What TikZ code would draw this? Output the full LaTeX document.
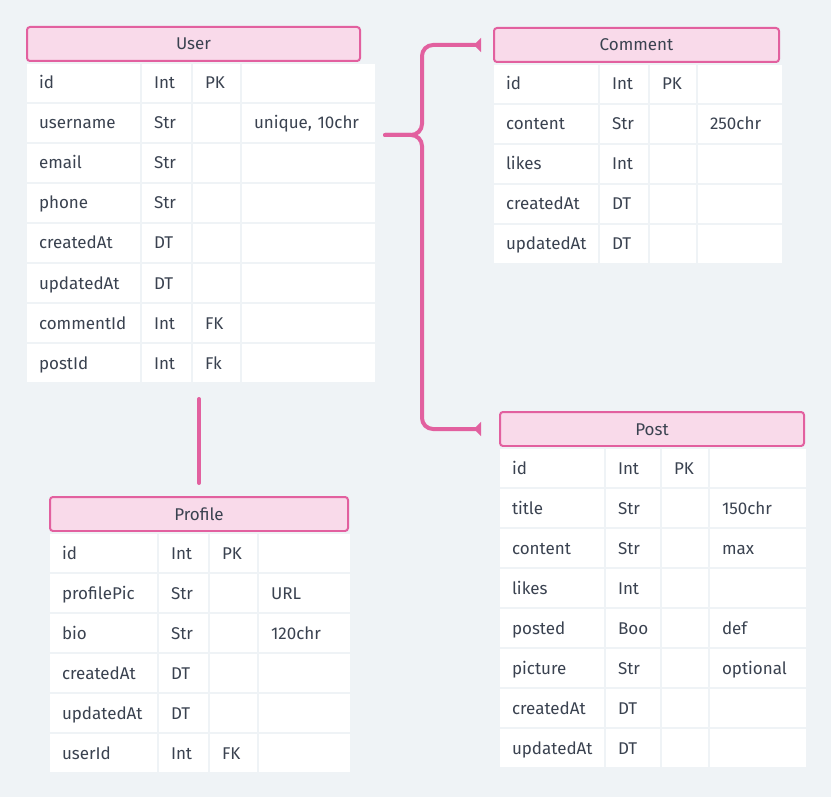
\documentclass[tikz,border=0pt]{standalone}
\usepackage{fontspec}
\setmainfont{Fira Sans}
\usetikzlibrary{arrows.meta}
\definecolor{bgGray}{HTML}{EFF3F6}
\definecolor{linkPink}{HTML}{E2609F}
\definecolor{headPink}{HTML}{F9DAEA}
\definecolor{inkGray}{HTML}{3A4250}

\begin{document}
\begin{tikzpicture}
[x=1pt,y=-1pt,
  headDecorate/.style={anchor=north west,shape=rectangle,draw=linkPink,line width=2pt,fill=headPink,%
    rounded corners=3pt,inner xsep=0pt,inner ysep=0pt,text height=23pt,text depth=11pt,%
    minimum height=34pt,text=inkGray,font=\fontsize{17}{20}\selectfont},%
  cellDecorate/.style={anchor=north west,shape=rectangle,draw=bgGray,line width=2pt,fill=white,%
    inner xsep=13pt,inner ysep=0pt,text height=26pt,text depth=14pt,align=left,%
    text=inkGray,font=\fontsize{17}{20}\selectfont},%
  lineDecorate/.style={draw=linkPink,line width=4pt,line cap=round,rounded corners=11pt}]
%% background
\fill[bgGray] (0,0) rectangle (831,797);
%% table headers
\foreach \nodename/\title/\x/\y/\w in {
  user/User/26/26/333, comment/Comment/493/27/285, post/Post/499/411/304, profile/Profile/49/496/298}
{
  \node (\nodename) at (\x,\y) [headDecorate,minimum width=\w] {\title};
}
%% User rows
\foreach \fname/\ftype/\fkey/\fnote [count=\i] in {
  id/Int/PK/{}, username/Str/{}/{unique, 10chr}, email/Str/{}/{}, phone/Str/{}/{},
  createdAt/DT/{}/{}, updatedAt/DT/{}/{}, commentId/Int/FK/{}, postId/Int/Fk/{}}
{
  \node (user-\i-a) at (25,{22+40*\i}) [cellDecorate,text width=89pt] {\fname};
  \node (user-\i-b) at (140,{22+40*\i}) [cellDecorate,text width=25pt] {\ftype};
  \node (user-\i-c) at (191,{22+40*\i}) [cellDecorate,text width=23pt] {\fkey};
  \node (user-\i-d) at (240,{22+40*\i}) [cellDecorate,text width=109pt] {\fnote};
}
%% Comment rows
\foreach \fname/\ftype/\fkey/\fnote [count=\i] in {
  id/Int/PK/{}, content/Str/{}/250chr, likes/Int/{}/{}, createdAt/DT/{}/{}, updatedAt/DT/{}/{}}
{
  \node (comment-\i-a) at (492,{23+40*\i}) [cellDecorate,text width=80pt] {\fname};
  \node (comment-\i-b) at (598,{23+40*\i}) [cellDecorate,text width=24pt] {\ftype};
  \node (comment-\i-c) at (648,{23+40*\i}) [cellDecorate,text width=22pt] {\fkey};
  \node (comment-\i-d) at (696,{23+40*\i}) [cellDecorate,text width=60pt] {\fnote};
}
%% Post rows
\foreach \fname/\ftype/\fkey/\fnote [count=\i] in {
  id/Int/PK/{}, title/Str/{}/150chr, content/Str/{}/max, likes/Int/{}/{},
  posted/Boo/{}/def, picture/Str/{}/optional, createdAt/DT/{}/{}, updatedAt/DT/{}/{}}
{
  \node (post-\i-a) at (498,{407+40*\i}) [cellDecorate,text width=80pt] {\fname};
  \node (post-\i-b) at (604,{407+40*\i}) [cellDecorate,text width=30pt] {\ftype};
  \node (post-\i-c) at (660,{407+40*\i}) [cellDecorate,text width=22pt] {\fkey};
  \node (post-\i-d) at (708,{407+40*\i}) [cellDecorate,text width=72pt] {\fnote};
}
%% Profile rows
\foreach \fname/\ftype/\fkey/\fnote [count=\i] in {
  id/Int/PK/{}, profilePic/Str/{}/URL, bio/Str/{}/120chr, createdAt/DT/{}/{},
  updatedAt/DT/{}/{}, userId/Int/FK/{}}
{
  \node (profile-\i-a) at (48,{492+40*\i}) [cellDecorate,text width=83pt] {\fname};
  \node (profile-\i-b) at (157,{492+40*\i}) [cellDecorate,text width=25pt] {\ftype};
  \node (profile-\i-c) at (208,{492+40*\i}) [cellDecorate,text width=23pt] {\fkey};
  \node (profile-\i-d) at (257,{492+40*\i}) [cellDecorate,text width=67pt] {\fnote};
}
%% links
\coordinate (fork) at ([xshift=45pt,yshift=-12pt]user-2-d.east);
\coordinate (userfoot) at (profile.north |- user-8-a.south);
\draw[lineDecorate,-{Triangle[reversed,length=7pt,width=14pt]}]
  ([xshift=8pt,yshift=-12pt]user-2-d.east) -- (fork) |- ([xshift=-12pt]comment.west);
\draw[lineDecorate,-{Triangle[reversed,length=7pt,width=14pt]}]
  ([xshift=8pt,yshift=-12pt]user-2-d.east) -- (fork) |- ([xshift=-18pt]post.west);
\draw[lineDecorate] ([yshift=-15pt]userfoot) -- ([yshift=13pt]profile.north);
\end{tikzpicture}
\end{document}
